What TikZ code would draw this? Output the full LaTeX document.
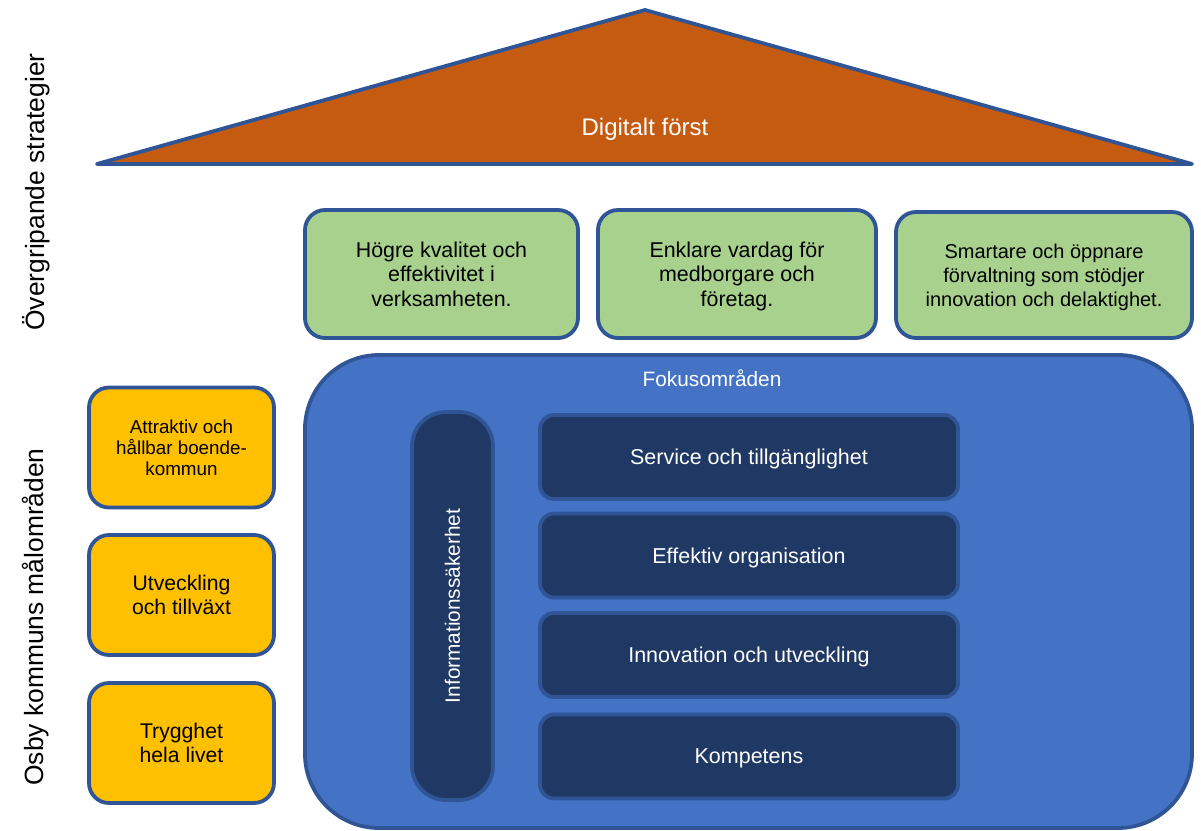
\documentclass[tikz,border=0pt]{standalone}
\usepackage{fontspec}
\setmainfont{Liberation Sans}
\definecolor{edge}{HTML}{2F5597}
\definecolor{roof}{HTML}{C55A11}
\definecolor{leaf}{HTML}{A9D18E}
\definecolor{focus}{HTML}{4472C4}
\definecolor{navy}{HTML}{203864}
\definecolor{gold}{HTML}{FFC000}

\begin{document}
\begin{tikzpicture}[x=0.5pt,y=-0.5pt,
  box/.style={draw=edge,line width=1.9pt,rounded corners=10pt,align=center,inner sep=0pt,text depth=0pt},
  goal/.style={box,fill=leaf,minimum height=64pt,font=\fontsize{10.7}{12.3}\selectfont},
  area/.style={box,fill=gold,minimum width=92.5pt,minimum height=60pt},
  row/.style={box,fill=navy,text=white,rounded corners=7pt,minimum width=209pt,minimum height=42pt,font=\fontsize{10.75}{13}\selectfont},
  side/.style={rotate=90,font=\fontsize{13.2}{15}\selectfont}]
  \useasboundingbox (0,0) rectangle (1201,831);

  \draw [line width=1.9pt,color=edge,fill=roof,line join=round] (97,164) -- (645,10) -- (1192,164) -- cycle;
  \node [text=white,text depth=0pt,font=\fontsize{12}{14}\selectfont] (digital) at (645,127) {Digitalt först};

  \node [goal,minimum width=136.5pt] (g1) at (441.5,274) {Högre kvalitet och\\effektivitet i\\verksamheten.};
  \node [goal,minimum width=139pt] (g2) at (737,274) {Enklare vardag för\\medborgare och\\företag.};
  \node [goal,minimum width=148pt,minimum height=63pt,font=\fontsize{10}{12}\selectfont] (g3) at (1044,275) {Smartare och öppnare\\förvaltning som stödjer\\innovation och delaktighet.};

  \node [box,fill=focus,rounded corners=37pt,minimum width=443.5pt,minimum height=236.5pt] (fokus) at (748.5,591.5) {};
  \node [text=white,text depth=0pt,font=\fontsize{10.4}{12}\selectfont] (fokuslbl) at (712,378) {Fokusområden};

  \node [box,fill=navy,rounded corners=17pt,minimum width=40.5pt,minimum height=194pt] (info) at (452.5,606) {};
  \node [rotate=90,text=white,font=\fontsize{10.4}{12}\selectfont] (infolbl) at (info.center) {Informationssäkerhet};

  \node [row] (r1) at (749,457) {Service och tillgänglighet};
  \node [row] (r2) at (749,555.5) {Effektiv organisation};
  \node [row] (r3) at (749,655) {Innovation och utveckling};
  \node [row] (r4) at (749,756.5) {Kompetens};

  \node [area,font=\fontsize{9.4}{10.5}\selectfont] (a1) at (181.5,447.5) {Attraktiv och\\hållbar boende-\\kommun};
  \node [area,font=\fontsize{10.6}{12}\selectfont] (a2) at (181.5,595) {Utveckling\\och tillväxt};
  \node [area,font=\fontsize{10.6}{12}\selectfont] (a3) at (181.5,743) {Trygghet\\hela livet};

  \node [side] (strat) at (36,192) {Övergripande strategier};
  \node [side] (mal) at (36,617) {Osby kommuns målområden};
\end{tikzpicture}
\end{document}
